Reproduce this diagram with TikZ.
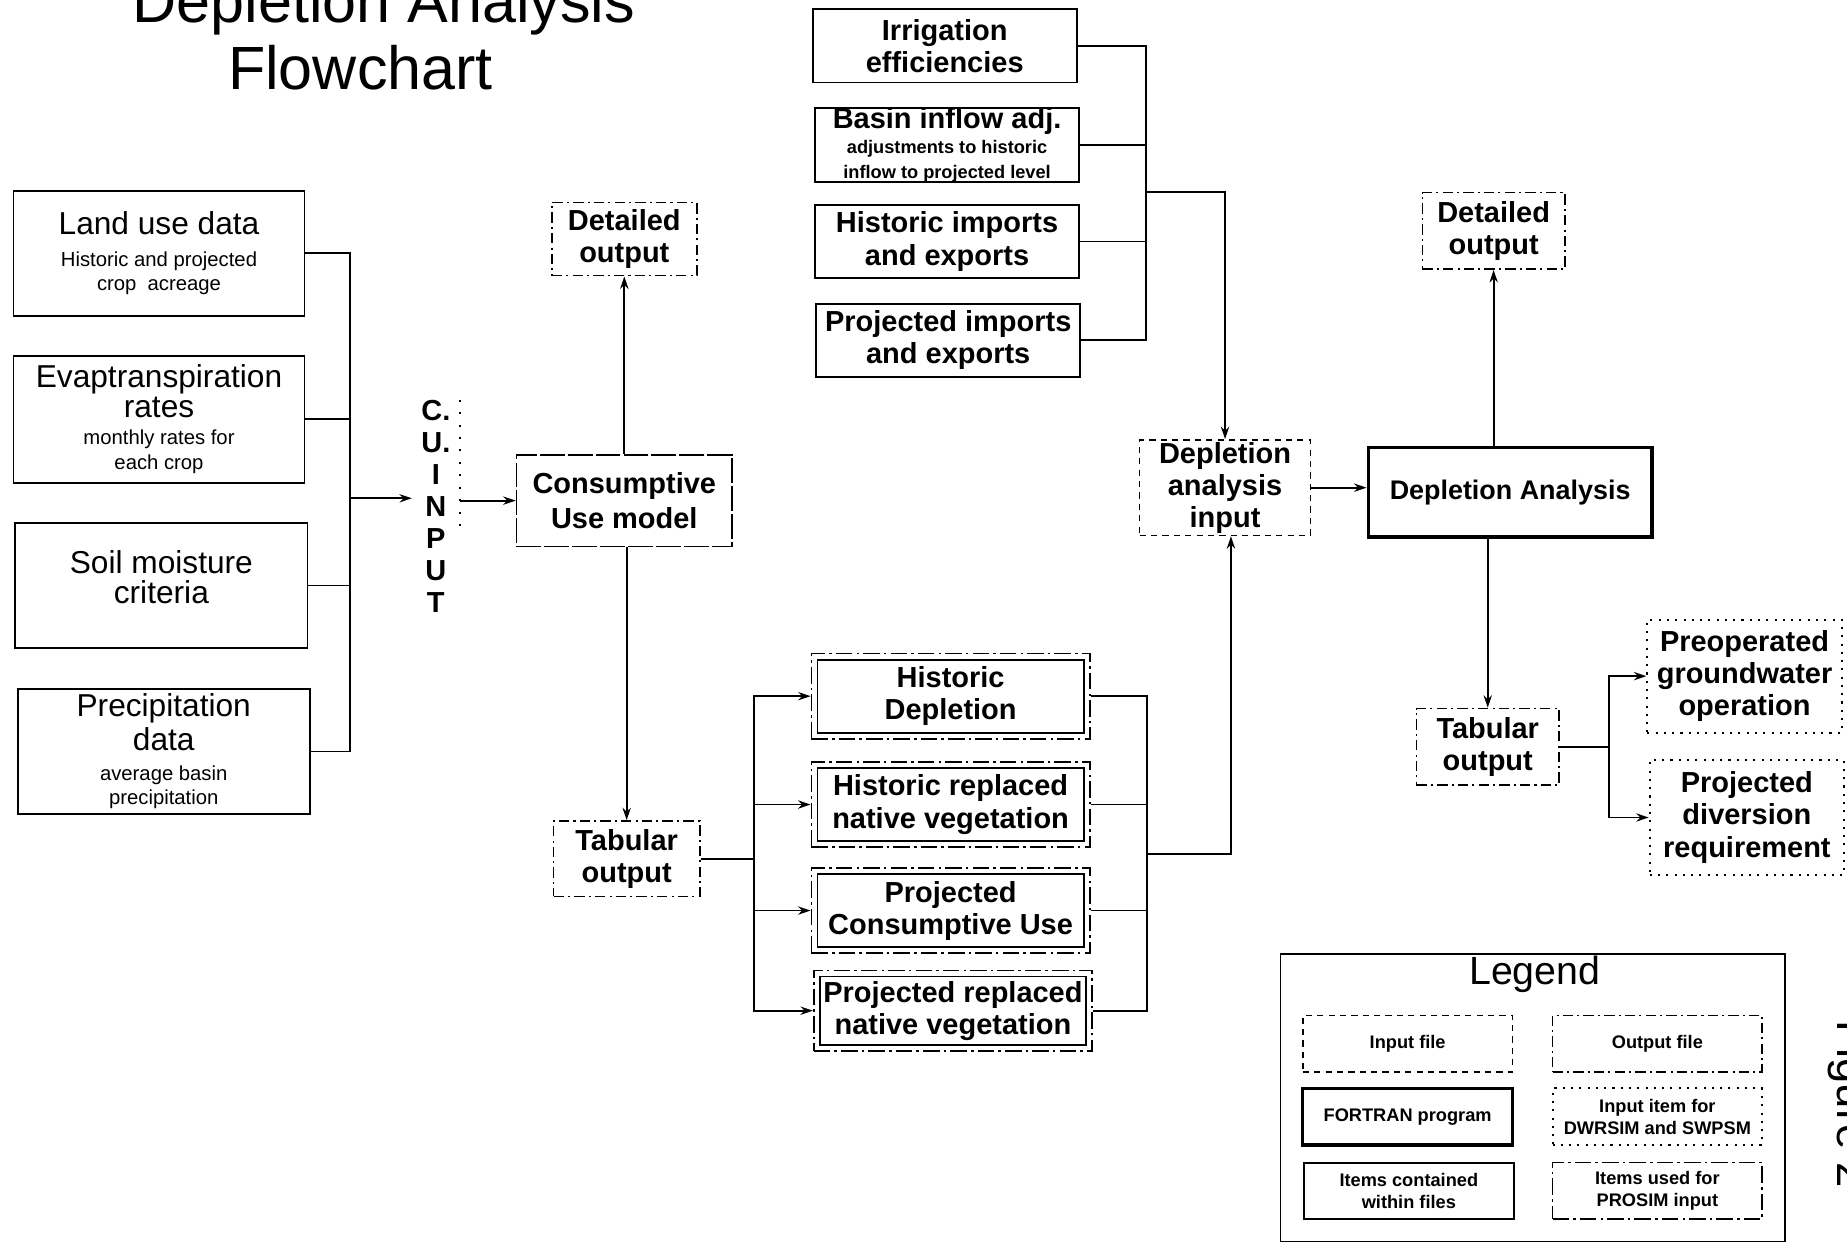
\documentclass[tikz,border=0pt]{standalone}
\usepackage{fontspec}
\setmainfont{Liberation Sans}
\usetikzlibrary{arrows.meta,fit}

\newcommand{\titletxt}{\fontsize{29.5}{34}\selectfont}
\newcommand{\bigtxt}{\fontsize{14}{15.5}\selectfont\bfseries}
\newcommand{\lefttxt}{\fontsize{15.3}{14.5}\selectfont}
\newcommand{\smalltxt}{\fontsize{9.8}{11.5}\selectfont}
\newcommand{\smallbold}{\fontsize{8.8}{10.5}\selectfont\bfseries}
\newcommand{\legtxt}{\fontsize{8.8}{10.5}\selectfont\bfseries}

\tikzset{
	every node/.style={align=center,inner sep=0pt},
	boxsize/.style 2 args={minimum width=#1*0.02cm,minimum height=#2*0.02cm},
	conn/.style={line width=0.9pt},
	arr/.style={conn,-{Stealth[length=6pt,width=4pt]}},
	itembox/.style={draw,line width=0.9pt},
	progbox/.style={draw,line width=1.6pt},
	infilebox/.style={draw,line width=0.8pt,dash pattern=on 3pt off 2.5pt},
	outfilebox/.style={draw,line width=0.8pt,dash pattern=on 5pt off 2pt on 1pt off 2pt},
	simbox/.style={draw,line width=1pt,dash pattern=on 1pt off 3pt},
	prosimbox/.style={draw,line width=0.8pt,dash pattern=on 8pt off 2pt on 1.2pt off 2pt},
	cubox/.style={draw,line width=0.8pt,dash pattern=on 12pt off 1.5pt}
}

\begin{document}
\begin{tikzpicture}[x=0.02cm,y=-0.02cm]
	\useasboundingbox (0,0) rectangle (1568,1055);
	
	% title
	\node[anchor=base,font=\titletxt] (ttl1) at (326,19) {Depletion Analysis};
	\node[anchor=base,font=\titletxt] (ttl2) at (306,76) {Flowchart};
	
	% consumptive use input data
	\node[itembox,font=\lefttxt,boxsize={247}{106}] (lu) at (135,215) {Land use data\\[1pt] \smalltxt Historic and projected\\[-3pt] \smalltxt crop\ \ acreage};
	\node[itembox,font=\lefttxt,boxsize={247}{108}] (et) at (135,356) {Evaptranspiration\\ rates\\[-1.5pt] \smalltxt monthly rates for\\[-2.5pt] \smalltxt each crop};
	\node[itembox,font=\lefttxt,boxsize={248}{106}] (sm) at (137,497) {Soil moisture\\ criteria\\[-6pt] \mbox{}};
	\node[itembox,font=\lefttxt,boxsize={248}{106}] (pd) at (139,638) {Precipitation\\[1.5pt] data\\ \smalltxt average basin\\[-2.5pt] \smalltxt precipitation};
	
	\coordinate (cuj) at (297,423);
	\foreach \n in {lu,et,sm,pd} \draw[conn] (\n.east) -| (cuj);
	
	\node[font=\bigtxt,boxsize={40}{180}] (cuin) at (370,430) {C.\\U.\\I\\N\\P\\U\\T};
	\draw[line width=0.8pt,dash pattern=on 1pt off 5pt] (cuin.north east) -- ([yshift=-2.2cm]cuin.north east);
	\draw[arr] (cuj) -- (cuj -| cuin.west);
	
	% consumptive use model
	\node[cubox,font=\bigtxt,boxsize={183}{78}] (cu) at (530,425) {Consumptive\\[1pt] Use model};
	\draw[arr] (cuin.east |- cu.west) -- (cu.west);
	
	\node[outfilebox,font=\bigtxt,boxsize={123}{62}] (dol) at (530,203) {Detailed\\output};
	\node[outfilebox,font=\bigtxt,boxsize={124}{64}] (tol) at (532,729) {Tabular\\output};
	\draw[arr] (cu.north) -- (cu.north |- dol.south);
	\draw[arr] (cu.south -| tol.north) -- (tol.north);
	
	% depletion files
	\node[itembox,font=\bigtxt,boxsize={226}{62}] (hd) at (807,591) {Historic\\Depletion};
	\node[itembox,font=\bigtxt,boxsize={226}{62}] (hr) at (807,683) {Historic replaced\\native vegetation};
	\node[itembox,font=\bigtxt,boxsize={226}{62}] (pc) at (807,773) {Projected\\Consumptive Use};
	\node[itembox,font=\bigtxt,boxsize={226}{58}] (pr) at (809,858) {Projected replaced\\native vegetation};
	\foreach \n in {hd,hr,pc,pr} \node[prosimbox,fit=(\n),inner sep=2.5pt] (o\n) {};
	
	\coordinate (tj) at (640,729);
	\draw[conn] (tol.east) -- (tj);
	\foreach \n in {hd,hr,pc,pr} \draw[arr] (tj) |- (o\n.west);
	
	% depletion analysis
	\node[infilebox,font=\bigtxt,boxsize={145}{81}] (dai) at (1040,414) {Depletion\\analysis\\input};
	\node[progbox,font=\fontsize{13}{15}\selectfont\bfseries,boxsize={241}{76}] (da) at (1282,418) {Depletion Analysis};
	\draw[arr] (dai.east) -- (dai.east -| da.west);
	
	\coordinate (dj) at (974,725);
	\coordinate (dk) at (1045,725);
	\foreach \n in {hd,hr,pc,pr} \draw[conn] (o\n.east) -| (dj);
	\draw[arr] (dj) -- (dk) -- (dk |- dai.south);
	
	% adjustment files
	\node[itembox,font=\bigtxt,boxsize={224}{62}] (ie) at (802,39) {Irrigation\\efficiencies};
	\node[itembox,boxsize={224}{62}] (bi) at (804,123) {\bigtxt Basin inflow adj.\\ \smallbold adjustments to historic\\ \smallbold inflow to projected level};
	\node[itembox,font=\bigtxt,boxsize={224}{62}] (hi) at (804,205) {Historic imports\\and exports};
	\node[itembox,font=\bigtxt,boxsize={224}{62}] (pi) at (805,289) {Projected imports\\and exports};
	
	\coordinate (aj) at (973,163);
	\coordinate (am) at (1040,163);
	\foreach \n in {ie,bi,hi,pi} \draw[conn] (\n.east) -| (aj);
	\draw[arr] (aj) -- (am) -- (am |- dai.north);
	
	% outputs
	\node[outfilebox,font=\bigtxt,boxsize={121}{65}] (dor) at (1268,196) {Detailed\\output};
	\node[outfilebox,font=\bigtxt,boxsize={121}{65}] (tor) at (1263,634) {Tabular\\output};
	\draw[arr] (da.north -| dor.south) -- (dor.south);
	\draw[arr] (da.south -| tor.north) -- (tor.north);
	
	\node[simbox,font=\bigtxt,boxsize={165}{96}] (pg) at (1481,574) {Preoperated\\groundwater\\operation};
	\node[simbox,font=\bigtxt,boxsize={165}{97}] (pdr) at (1483,694) {Projected\\diversion\\requirement};
	\coordinate (oj) at (1366,634);
	\draw[conn] (tor.east) -- (oj);
	\draw[arr] (oj) |- (pg.west);
	\draw[arr] (oj) |- (pdr.west);
	
	% legend
	\node[itembox,boxsize={428}{244}] (leg) at (1301,932) {};
	\node[font=\fontsize{19}{22}\selectfont] (legt) at (1303,827) {Legend};
	\node[infilebox,font=\legtxt,boxsize={178}{48}] (lif) at (1195,886) {Input file};
	\node[outfilebox,font=\legtxt,boxsize={178}{48}] (lof) at (1407,886) {Output file};
	\node[progbox,font=\legtxt,boxsize={178}{48}] (lfp) at (1195,948) {FORTRAN program};
	\node[simbox,font=\legtxt,boxsize={178}{48}] (lii) at (1407,948) {Input item for\\DWRSIM and SWPSM};
	\node[itembox,font=\legtxt,boxsize={178}{48}] (lic) at (1196,1011) {Items contained\\within files};
	\node[prosimbox,font=\legtxt,boxsize={178}{48}] (lip) at (1407,1011) {Items used for\\PROSIM input};
	
	\node[rotate=-90,anchor=base west,font=\fontsize{22}{26}\selectfont] (fig) at (1560,866) {Figure 2};
\end{tikzpicture}
\end{document}
